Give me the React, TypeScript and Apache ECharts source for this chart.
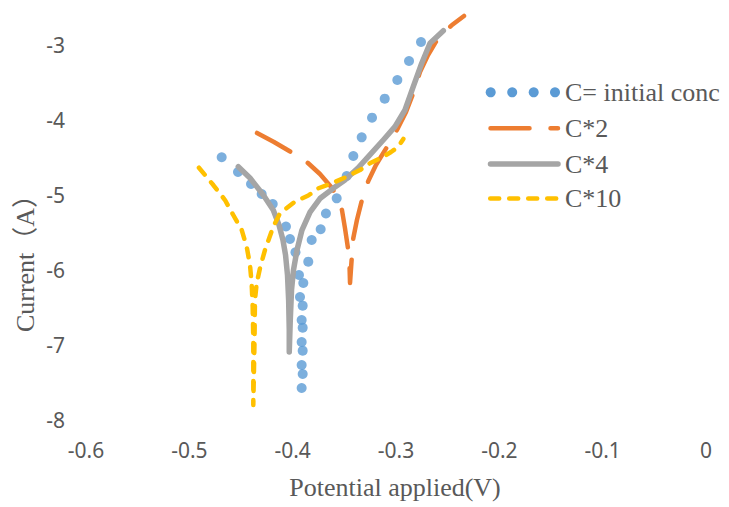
import React, { useEffect, useRef } from 'react';
import * as echarts from 'echarts';

const seriesNames = ['C= initial conc', 'C*2', 'C*4', 'C*10'];
const seriesColors = ['#5B9BD5', '#ED7D31', '#A5A5A5', '#FFC000'];

const xTicks = { min: -0.6, max: 0, interval: 0.1 };
const yTicks = { min: -8, max: -2.5, interval: 1 };

const blueData = [
  [-0.4687, -4.497], [-0.4529, -4.693], [-0.4403, -4.853], [-0.43, -4.987], [-0.4193, -5.12],
  [-0.4065, -5.42], [-0.4026, -5.587], [-0.3973, -5.764], [-0.3939, -6.067], [-0.3929, -6.36],
  [-0.3913, -6.667], [-0.3913, -6.96], [-0.3913, -7.267], [-0.3913, -7.573], [-0.3903, -7.387],
  [-0.3903, -7.076], [-0.3903, -6.769], [-0.3903, -6.476], [-0.3897, -6.173], [-0.3849, -5.889],
  [-0.3816, -5.6], [-0.3729, -5.457], [-0.3678, -5.247], [-0.3574, -5.044], [-0.3477, -4.747],
  [-0.3413, -4.48], [-0.3332, -4.231], [-0.3232, -3.969], [-0.3109, -3.716], [-0.2987, -3.467],
  [-0.2874, -3.213], [-0.2758, -2.96],
];

const orangeData = [
  [-0.4345, -4.173], [-0.4181, -4.293], [-0.4016, -4.427], [-0.3929, -4.493], [-0.3852, -4.573],
  [-0.3736, -4.72], [-0.3619, -4.907], [-0.3561, -5.053], [-0.3523, -5.2], [-0.3494, -5.44],
  [-0.3465, -5.707], [-0.345, -5.933], [-0.3445, -6.173], [-0.3431, -5.893], [-0.3413, -5.573],
  [-0.3378, -5.333], [-0.3332, -5.08], [-0.3268, -4.813], [-0.3194, -4.6], [-0.3087, -4.36],
  [-0.2981, -4.107], [-0.2903, -3.893], [-0.2836, -3.653], [-0.2768, -3.36], [-0.269, -3.133],
  [-0.2603, -2.933], [-0.2458, -2.733], [-0.2342, -2.613],
];

const grayData = [
  [-0.4526, -4.623], [-0.4413, -4.773], [-0.4284, -5.0], [-0.4188, -5.2], [-0.4132, -5.4],
  [-0.4094, -5.6], [-0.4069, -5.8], [-0.405, -6.067], [-0.4039, -6.4], [-0.4033, -6.8],
  [-0.4033, -7.093], [-0.4023, -6.667], [-0.4011, -6.267], [-0.3992, -6.0], [-0.3958, -5.733],
  [-0.391, -5.467], [-0.3832, -5.227], [-0.3736, -5.047], [-0.3607, -4.911], [-0.3494, -4.8],
  [-0.3368, -4.64], [-0.3268, -4.489], [-0.3123, -4.267], [-0.301, -4.089], [-0.2913, -3.867],
  [-0.2833, -3.556], [-0.2751, -3.244], [-0.2671, -2.977], [-0.2542, -2.809],
];

const yellowData = [
  [-0.4907, -4.636], [-0.4768, -4.867], [-0.4655, -5.067], [-0.4575, -5.267], [-0.4493, -5.467],
  [-0.4445, -5.689], [-0.4413, -5.933], [-0.4397, -6.177], [-0.4387, -6.489], [-0.4381, -6.933],
  [-0.4381, -7.8], [-0.4369, -6.933], [-0.4365, -6.4], [-0.4348, -6.177], [-0.4316, -5.973],
  [-0.4268, -5.733], [-0.4188, -5.423], [-0.4123, -5.244], [-0.3978, -5.089], [-0.3849, -5.007],
  [-0.3752, -4.911], [-0.3622, -4.844], [-0.3477, -4.756], [-0.3348, -4.667], [-0.3252, -4.577],
  [-0.3123, -4.489], [-0.3048, -4.427], [-0.2978, -4.356], [-0.2929, -4.253],
];

const TEXT = '#595959';
const SERIF = '"Liberation Serif", "Times New Roman", "Noto Sans CJK SC", serif';
const SANS = '"Noto Sans", "Open Sans", sans-serif';

export default function App() {
  const ref = useRef<HTMLDivElement>(null);

  useEffect(() => {
    const chart = echarts.init(ref.current!, null, { renderer: 'svg' });

    const legendX1 = 490.5;
    const legendX2 = 558;
    const rows = [92.3, 128.3, 164, 198.5];

    const legendGraphics: any[] = [];
    [490.7, 512.2, 533.7, 555].forEach((cx) => {
      legendGraphics.push({
        type: 'circle',
        shape: { cx, cy: rows[0], r: 5 },
        style: { fill: seriesColors[0] },
        silent: true,
      });
    });
    legendGraphics.push({
      type: 'line',
      shape: { x1: legendX1, y1: rows[1], x2: legendX2, y2: rows[1] },
      style: { stroke: seriesColors[1], lineWidth: 4.5, lineDash: [39, 21], lineCap: 'round' },
      silent: true,
    });
    legendGraphics.push({
      type: 'line',
      shape: { x1: legendX1, y1: rows[2], x2: legendX2, y2: rows[2] },
      style: { stroke: seriesColors[2], lineWidth: 5.5, lineCap: 'round' },
      silent: true,
    });
    legendGraphics.push({
      type: 'line',
      shape: { x1: legendX1 - 0.3, y1: rows[3], x2: legendX2, y2: rows[3] },
      style: { stroke: seriesColors[3], lineWidth: 4.5, lineDash: [9, 10], lineCap: 'round' },
      silent: true,
    });
    seriesNames.forEach((name, i) => {
      legendGraphics.push({
        type: 'text',
        x: 565,
        y: rows[i],
        style: { text: name, font: `26px ${SERIF}`, fill: TEXT, align: 'left', verticalAlign: 'middle' },
        silent: true,
      });
    });

    chart.setOption({
      animation: false,
      backgroundColor: '#ffffff',
      grid: { left: 86, right: 23, top: 7.5, bottom: 87, containLabel: false, outerBoundsMode: 'none' },
      xAxis: {
        type: 'value',
        min: xTicks.min,
        max: xTicks.max,
        interval: xTicks.interval,
        axisLine: { show: false },
        axisTick: { show: false },
        splitLine: { show: false },
        axisLabel: {
          color: TEXT,
          fontSize: 21,
          fontFamily: SANS,
          margin: 19,
          formatter: (v: number) => String(Math.round(v * 10) / 10),
        },
      },
      yAxis: {
        type: 'value',
        min: yTicks.min,
        max: yTicks.max,
        interval: yTicks.interval,
        axisLine: { show: false },
        axisTick: { show: false },
        splitLine: { show: false },
        axisLabel: {
          color: TEXT,
          fontSize: 21,
          fontFamily: SANS,
          margin: 21,
          formatter: (v: number) => (Math.abs(v - Math.round(v)) < 1e-6 ? String(Math.round(v)) : ''),
        },
      },
      graphic: [
        ...legendGraphics,
        {
          type: 'text',
          x: 25,
          y: 257,
          rotation: Math.PI / 2,
          style: { text: 'Current（A）', font: `26px ${SERIF}`, fill: TEXT, align: 'center', verticalAlign: 'middle' },
          silent: true,
        },
        {
          type: 'text',
          x: 395,
          y: 487,
          style: { text: 'Potential applied(V)', font: `26px ${SERIF}`, fill: TEXT, align: 'center', verticalAlign: 'middle' },
          silent: true,
        },
      ],
      series: [
        {
          type: 'scatter',
          name: seriesNames[0],
          data: blueData,
          symbol: 'circle',
          symbolSize: 10,
          itemStyle: { color: seriesColors[0] },
          z: 2,
        },
        {
          type: 'line',
          name: seriesNames[1],
          data: orangeData,
          symbol: 'none',
          showSymbol: false,
          lineStyle: { color: seriesColors[1], width: 4.5, type: [38, 21], cap: 'round', join: 'round' },
          z: 3,
        },
        {
          type: 'line',
          name: seriesNames[2],
          data: grayData,
          symbol: 'none',
          showSymbol: false,
          lineStyle: { color: seriesColors[2], width: 5.5, type: 'solid', cap: 'round', join: 'round' },
          z: 4,
        },
        {
          type: 'line',
          name: seriesNames[3],
          data: yellowData,
          symbol: 'none',
          showSymbol: false,
          lineStyle: { color: seriesColors[3], width: 4.5, type: [9, 10], cap: 'round', join: 'round' },
          z: 5,
        },
      ],
    });

    return () => chart.dispose();
  }, []);

  return (
    <div
      ref={ref}
      style={{ position: 'fixed', left: 0, top: 0, width: 729, height: 507, background: '#ffffff' }}
    />
  );
}
